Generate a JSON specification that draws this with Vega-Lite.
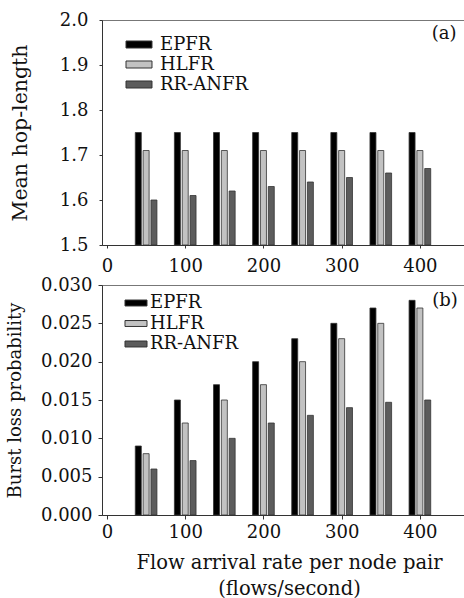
{
  "$schema": "https://vega.github.io/schema/vega-lite/v6.json",
  "padding": {"left": 5, "top": 10, "right": 1, "bottom": 1},
  "background": "white",
  "spacing": -1,
  "config": {
    "font": "DejaVu Serif",
    "view": {"stroke": "#777", "strokeWidth": 1},
    "axis": {
      "grid": false,
      "domainColor": "#333",
      "tickColor": "#333",
      "tickSize": 3,
      "labelFont": "DejaVu Serif",
      "labelFontSize": 18,
      "labelColor": "#111",
      "labelOverlap": false,
      "labelFlush": false,
      "titleFont": "DejaVu Serif",
      "titleFontSize": 19,
      "titleFontWeight": "normal",
      "titleColor": "#111"
    },
    "legend": {
      "labelFont": "DejaVu Serif",
      "labelFontSize": 18,
      "labelColor": "#111",
      "padding": 0
    }
  },
  "datasets": {
    "hop": [
      {"rate": 40, "scheme": "EPFR", "value": 1.75},
      {"rate": 50, "scheme": "HLFR", "value": 1.71},
      {"rate": 60, "scheme": "RR-ANFR", "value": 1.60},
      {"rate": 90, "scheme": "EPFR", "value": 1.75},
      {"rate": 100, "scheme": "HLFR", "value": 1.71},
      {"rate": 110, "scheme": "RR-ANFR", "value": 1.61},
      {"rate": 140, "scheme": "EPFR", "value": 1.75},
      {"rate": 150, "scheme": "HLFR", "value": 1.71},
      {"rate": 160, "scheme": "RR-ANFR", "value": 1.62},
      {"rate": 190, "scheme": "EPFR", "value": 1.75},
      {"rate": 200, "scheme": "HLFR", "value": 1.71},
      {"rate": 210, "scheme": "RR-ANFR", "value": 1.63},
      {"rate": 240, "scheme": "EPFR", "value": 1.75},
      {"rate": 250, "scheme": "HLFR", "value": 1.71},
      {"rate": 260, "scheme": "RR-ANFR", "value": 1.64},
      {"rate": 290, "scheme": "EPFR", "value": 1.75},
      {"rate": 300, "scheme": "HLFR", "value": 1.71},
      {"rate": 310, "scheme": "RR-ANFR", "value": 1.65},
      {"rate": 340, "scheme": "EPFR", "value": 1.75},
      {"rate": 350, "scheme": "HLFR", "value": 1.71},
      {"rate": 360, "scheme": "RR-ANFR", "value": 1.66},
      {"rate": 390, "scheme": "EPFR", "value": 1.75},
      {"rate": 400, "scheme": "HLFR", "value": 1.71},
      {"rate": 410, "scheme": "RR-ANFR", "value": 1.67}
    ],
    "loss": [
      {"rate": 40, "scheme": "EPFR", "value": 0.009},
      {"rate": 50, "scheme": "HLFR", "value": 0.008},
      {"rate": 60, "scheme": "RR-ANFR", "value": 0.006},
      {"rate": 90, "scheme": "EPFR", "value": 0.015},
      {"rate": 100, "scheme": "HLFR", "value": 0.012},
      {"rate": 110, "scheme": "RR-ANFR", "value": 0.0071},
      {"rate": 140, "scheme": "EPFR", "value": 0.017},
      {"rate": 150, "scheme": "HLFR", "value": 0.015},
      {"rate": 160, "scheme": "RR-ANFR", "value": 0.010},
      {"rate": 190, "scheme": "EPFR", "value": 0.020},
      {"rate": 200, "scheme": "HLFR", "value": 0.017},
      {"rate": 210, "scheme": "RR-ANFR", "value": 0.012},
      {"rate": 240, "scheme": "EPFR", "value": 0.023},
      {"rate": 250, "scheme": "HLFR", "value": 0.020},
      {"rate": 260, "scheme": "RR-ANFR", "value": 0.013},
      {"rate": 290, "scheme": "EPFR", "value": 0.025},
      {"rate": 300, "scheme": "HLFR", "value": 0.023},
      {"rate": 310, "scheme": "RR-ANFR", "value": 0.014},
      {"rate": 340, "scheme": "EPFR", "value": 0.027},
      {"rate": 350, "scheme": "HLFR", "value": 0.025},
      {"rate": 360, "scheme": "RR-ANFR", "value": 0.0147},
      {"rate": 390, "scheme": "EPFR", "value": 0.028},
      {"rate": 400, "scheme": "HLFR", "value": 0.027},
      {"rate": 410, "scheme": "RR-ANFR", "value": 0.015}
    ],
    "labA": [{"x": 431, "y": 1.968, "t": "(a)"}],
    "labB": [{"x": 432, "y": 0.0279, "t": "(b)"}]
  },
  "resolve": {"legend": {"color": "independent"}},
  "vconcat": [
    {
      "width": 362,
      "height": 225,
      "layer": [
        {
          "data": {"name": "hop"},
          "mark": {"type": "bar", "size": 6, "stroke": "#333", "strokeWidth": 0.8},
          "encoding": {
            "x": {"field": "rate", "type": "quantitative",
                  "scale": {"domain": [0, 450], "nice": false},
                  "axis": {"values": [0, 100, 200, 300, 400], "tickCount": 20, "title": null, "labelPadding": 9, "labelOverlap": false}},
            "y": {"field": "value", "type": "quantitative",
                  "scale": {"domain": [1.5, 2.0], "nice": false, "zero": false},
                  "axis": {"values": [1.5, 1.6, 1.7, 1.8, 1.9, 2.0], "tickCount": 20, "format": ".1f", "title": "Mean hop-length", "titleFontSize": 20.5, "labelPadding": 11, "titlePadding": 29, "labelOverlap": false}},
            "y2": {"datum": 1.5},
            "color": {"field": "scheme", "type": "nominal",
                      "scale": {"domain": ["EPFR", "HLFR", "RR-ANFR"], "range": ["#000000", "#c2c2c2", "#5c5c5c"]},
                      "legend": {"title": null, "orient": "none", "legendX": 28, "legendY": 15.5,
                                 "symbolType": "M-5,-1.35H5V1.35H-5Z", "symbolSize": 27,
                                 "symbolStrokeColor": "#333", "symbolStrokeWidth": 1, "symbolOpacity": 1,
                                 "rowPadding": 2, "labelOffset": 12}}
          }
        },
        {
          "data": {"name": "labA"},
          "mark": {"type": "text", "font": "DejaVu Serif", "fontSize": 18, "color": "#111", "align": "center", "baseline": "middle"},
          "encoding": {
            "x": {"field": "x", "type": "quantitative"},
            "y": {"field": "y", "type": "quantitative"},
            "text": {"field": "t"}
          }
        }
      ]
    },
    {
      "width": 362,
      "height": 230,
      "layer": [
        {
          "data": {"name": "loss"},
          "mark": {"type": "bar", "size": 6, "stroke": "#333", "strokeWidth": 0.8},
          "encoding": {
            "x": {"field": "rate", "type": "quantitative",
                  "scale": {"domain": [0, 450], "nice": false},
                  "axis": {"values": [0, 100, 200, 300, 400], "tickCount": 20, "title": ["Flow arrival rate per node pair", "(flows/second)"], "titleFontSize": 19.5, "titleX": 187, "tickSize": 4, "labelPadding": 4, "titlePadding": 12, "titleLineHeight": 26, "labelOverlap": false}},
            "y": {"field": "value", "type": "quantitative",
                  "scale": {"domain": [0, 0.03], "nice": false},
                  "axis": {"values": [0, 0.005, 0.01, 0.015, 0.02, 0.025, 0.03], "tickCount": 20, "format": ".3f", "title": "Burst loss probability", "titleFontSize": 18, "tickSize": 4, "labelPadding": 6, "titlePadding": 16, "labelOverlap": false}},
            "color": {"field": "scheme", "type": "nominal",
                      "scale": {"domain": ["EPFR", "HLFR", "RR-ANFR"], "range": ["#000000", "#c2c2c2", "#5c5c5c"]},
                      "legend": {"title": null, "orient": "none", "legendX": 25, "legendY": 9,
                                 "symbolType": "M-5,-1.35H5V1.35H-5Z", "symbolSize": 19.4,
                                 "symbolStrokeColor": "#333", "symbolStrokeWidth": 1, "symbolOpacity": 1,
                                 "rowPadding": 2.5, "labelOffset": 5}}
          }
        },
        {
          "data": {"name": "labB"},
          "mark": {"type": "text", "font": "DejaVu Serif", "fontSize": 18, "color": "#111", "align": "center", "baseline": "middle"},
          "encoding": {
            "x": {"field": "x", "type": "quantitative"},
            "y": {"field": "y", "type": "quantitative"},
            "text": {"field": "t"}
          }
        }
      ]
    }
  ]
}
